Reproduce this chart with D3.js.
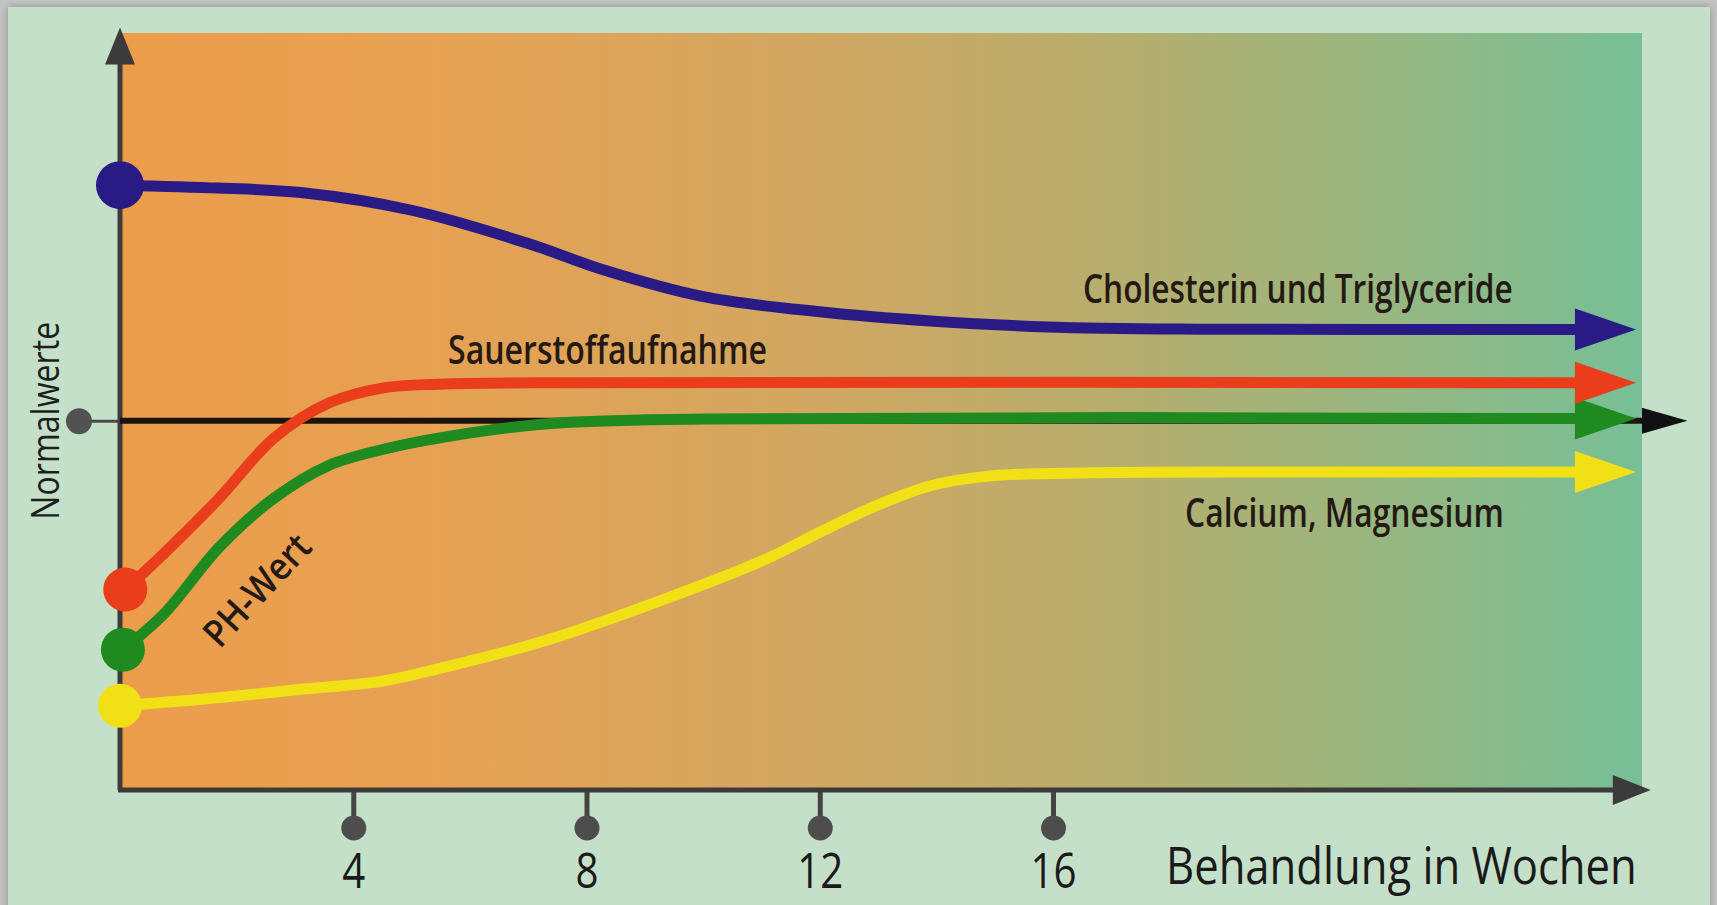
<!DOCTYPE html>
<html>
<head>
<meta charset="utf-8">
<script src="https://cdn.jsdelivr.net/npm/d3@7"></script>
<style>
  html, body { margin: 0; padding: 0; background: #bcbcbc; }
  svg { display: block; }
  text { font-family: "Open Sans", "Noto Sans", sans-serif; }
</style>
</head>
<body>
<div id="chart"></div>
<script>
// x: weeks of treatment, y: level relative to normal (0 = Normalwert)
const weekTicks = [4, 8, 12, 16];
const xTitle = "Behandlung in Wochen";
const yTitle = "Normalwerte";
const normalValue = 0;

const cholWeeks  = [0, 1.7, 3.1, 5.0, 7.0, 8.3, 10.0, 12.0, 13.9, 15.9, 18.5, 25];
const cholValues = [63.8, 63.0, 61.8, 57.0, 48.0, 40.8, 33.6, 29.5, 27.0, 25.4, 24.8, 24.7];

const oxyWeeks  = [0.09, 0.75, 1.7, 2.64, 3.58, 4.52, 5.46, 8, 25];
const oxyValues = [-45.7, -36.0, -21.0, -4.7, 4.8, 8.9, 9.9, 10.3, 10.3];

const phWeeks  = [0.05, 0.76, 1.7, 2.64, 3.58, 4.5, 5.46, 7.33, 10, 25];
const phValues = [-62.0, -52.2, -34.3, -21.0, -12.1, -7.8, -4.7, -0.8, 0.5, 0.6];

const mineralWeeks  = [0, 1.5, 3.2, 4.5, 5.5, 7.3, 9.2, 11.1, 12.0, 13.0, 13.9, 14.9, 16.7, 20, 25];
const mineralValues = [-77.2, -75.3, -72.6, -70.5, -67.0, -59.5, -49.1, -37.3, -30.2, -22.8, -17.6, -15.0, -14.1, -13.9, -13.9];

const seriesNames  = ["Calcium, Magnesium", "PH-Wert", "Sauerstoffaufnahme", "Cholesterin und Triglyceride"];
const seriesColors = ["#f1e016", "#1f8a1f", "#ea3d1b", "#2a1a86"];

const W = 1717, H = 905;

const series = [
  {name: seriesNames[0], color: seriesColors[0], weeks: mineralWeeks, values: mineralValues, r: 22},
  {name: seriesNames[1], color: seriesColors[1], weeks: phWeeks, values: phValues, r: 22},
  {name: seriesNames[2], color: seriesColors[2], weeks: oxyWeeks, values: oxyValues, r: 22},
  {name: seriesNames[3], color: seriesColors[3], weeks: cholWeeks, values: cholValues, r: 24}
].map(s => ({...s, points: s.weeks.map((w, i) => ({w: w, v: s.values[i]}))}));

const x = d3.scaleLinear().domain([0, 26.1]).range([120, 1642]);
const y = d3.scaleLinear().domain([-100, 105]).range([790, 33]);

const svg = d3.select("#chart").append("svg")
    .attr("width", W)
    .attr("height", H);

// squeeze a text horizontally to a given width (the original uses a condensed face)
function condense(sel, px, py, width, angle) {
    const natural = sel.node().getComputedTextLength();
    const k = width / natural;
    sel.attr("x", 0).attr("y", 0)
        .attr("transform", `translate(${px},${py}) rotate(${angle || 0}) scale(${k},1)`);
}

const defs = svg.append("defs");
const grad = defs.append("linearGradient")
    .attr("id", "plotGrad")
    .attr("x1", "0%").attr("x2", "100%").attr("y1", "0%").attr("y2", "0%");
[[0, "#ec9d4b"], [0.2, "#e7a152"], [0.45, "#d2a761"], [0.65, "#b8ad6d"], [0.8, "#9db57d"], [1, "#77bf97"]]
    .forEach(([o, c]) => grad.append("stop").attr("offset", o).attr("stop-color", c));

const shadow = defs.append("filter").attr("id", "shadow")
    .attr("x", "-2%").attr("y", "-2%").attr("width", "104%").attr("height", "104%");
shadow.append("feDropShadow").attr("dx", 0).attr("dy", 0).attr("stdDeviation", 4)
    .attr("flood-color", "#777").attr("flood-opacity", 0.7);

// page and panel
svg.append("rect").attr("width", W).attr("height", H).attr("fill", "#c4c4c4");
svg.append("rect")
    .attr("x", 8).attr("y", 7).attr("width", 1702).attr("height", H + 20)
    .attr("fill", "#c5e0c9")
    .attr("filter", "url(#shadow)");

// plot background
svg.append("rect")
    .attr("x", x(0)).attr("y", y(105))
    .attr("width", x(26.1) - x(0)).attr("height", y(-100) - y(105))
    .attr("fill", "url(#plotGrad)");

const axisColor = "#3b3b3b";

// y axis with arrow and the Normalwerte marker
const yAxis = d3.axisLeft(y).tickValues([normalValue]).tickSize(41).tickFormat("");
const gy = svg.append("g").attr("transform", `translate(${x(0)},0)`).call(yAxis);
gy.select(".domain").remove();
gy.selectAll(".tick line").attr("stroke", "#4a4a4a").attr("stroke-width", 3);
gy.selectAll(".tick").append("circle")
    .attr("cx", -41).attr("r", 13).attr("fill", "#525252");

svg.append("line")
    .attr("x1", x(0)).attr("x2", x(0))
    .attr("y1", y(-100)).attr("y2", y(99))
    .attr("stroke", axisColor).attr("stroke-width", 5);
svg.append("path")
    .attr("d", `M${x(0)},${y(106.5)} L${x(0) - 15},${y(96.5)} L${x(0) + 15},${y(96.5)} Z`)
    .attr("fill", axisColor);

svg.append("text")
    .attr("text-anchor", "middle")
    .attr("dominant-baseline", "central")
    .attr("font-size", 38)
    .attr("font-weight", 500)
    .attr("fill", "#1e1e1e")
    .text(yTitle)
    .call(condense, 44, y(normalValue), 198, -90);

// x axis with pin ticks
const xAxis = d3.axisBottom(x).tickValues(weekTicks).tickSize(38).tickFormat(d3.format("d"));
const gx = svg.append("g").attr("transform", `translate(0,${y(-100)})`).call(xAxis);
gx.select(".domain").remove();
gx.selectAll(".tick line").attr("stroke", "#454545").attr("stroke-width", 5);
gx.selectAll(".tick").append("circle")
    .attr("cy", 38).attr("r", 12.5).attr("fill", "#4d4d4d");
gx.selectAll(".tick text")
    .attr("dy", 0)
    .attr("font-size", 50)
    .attr("font-weight", 500)
    .attr("fill", "#1a1a1a")
    .each(function (d) {
        d3.select(this).call(condense, 0, 98, String(d).length * 23, 0);
    });

svg.append("line")
    .attr("x1", x(0) - 2).attr("x2", x(25.7))
    .attr("y1", y(-100)).attr("y2", y(-100))
    .attr("stroke", axisColor).attr("stroke-width", 5);
svg.append("path")
    .attr("d", `M${x(26.25)},${y(-100)} L${x(25.6)},${y(-100) - 15} L${x(25.6)},${y(-100) + 15} Z`)
    .attr("fill", axisColor);

svg.append("text")
    .attr("font-size", 52)
    .attr("font-weight", 500)
    .attr("fill", "#1a1a1a")
    .text(xTitle)
    .call(condense, 1166, 884, 471, 0);

// normal value line
svg.append("line")
    .attr("x1", x(0)).attr("x2", x(26.1))
    .attr("y1", y(normalValue)).attr("y2", y(normalValue))
    .attr("stroke", "#1b130e").attr("stroke-width", 6);
svg.append("path")
    .attr("d", `M${x(26.88)},${y(normalValue)} L${x(26.1)},${y(normalValue) - 13} L${x(26.1)},${y(normalValue) + 13} Z`)
    .attr("fill", "#111");

// series lines with arrow heads
const line = d3.line()
    .x(d => x(d.w))
    .y(d => y(d.v))
    .curve(d3.curveCatmullRom.alpha(0.5));

const sg = svg.selectAll(".seriesG")
    .data(series)
    .join("g")
    .attr("class", "seriesG");

sg.append("path")
    .attr("d", d => line(d.points))
    .attr("fill", "none")
    .attr("stroke", d => d.color)
    .attr("stroke-width", 11);

sg.append("path")
    .attr("d", d => {
        const last = d.points[d.points.length - 1];
        const yy = y(last.v);
        return `M${x(26)},${yy} L${x(24.95)},${yy - 21} L${x(24.95)},${yy + 21} Z`;
    })
    .attr("fill", d => d.color);

sg.append("circle")
    .attr("cx", d => x(d.points[0].w))
    .attr("cy", d => y(d.points[0].v))
    .attr("r", d => d.r)
    .attr("fill", d => d.color);

// series labels
const labelColor = "#241a13";
const label = (txt, size) => svg.append("text")
    .attr("font-size", size)
    .attr("font-weight", 600)
    .attr("fill", labelColor)
    .text(txt);

label(seriesNames[3], 40).call(condense, 1083, 303, 430, 0);
label(seriesNames[2], 40).call(condense, 448, 364, 319, 0);
label(seriesNames[0], 40).call(condense, 1185, 527, 319, 0);
label(seriesNames[1], 38)
    .attr("text-anchor", "middle")
    .attr("dominant-baseline", "central")
    .call(condense, 256, 589, 138, -47);
</script>
</body>
</html>
